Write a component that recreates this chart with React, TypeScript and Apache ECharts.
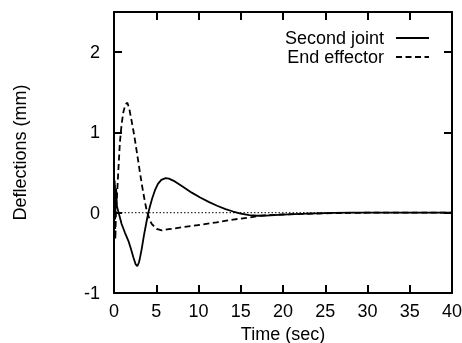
import React, { useEffect, useRef } from "react";
import * as echarts from "echarts";

const xTicks = [0, 5, 10, 15, 20, 25, 30, 35, 40];
const yTicks = [-1, 0, 1, 2];

const jointT = [0, 0.08, 0.16, 0.25, 0.35, 0.5, 0.7, 0.9, 1.3, 1.7, 2.0, 2.29, 2.55, 2.76, 2.95, 3.1, 3.28, 3.55, 3.87, 4.06, 4.26, 4.5, 4.85, 5.2, 5.6, 6.1, 6.5, 7.2, 8.2, 9.2, 10.2, 11.2, 12.2, 13.2, 14.1, 15, 16, 17, 18, 20, 22, 24, 26, 28, 30, 35, 40];
const jointY = [0, 0.4, 0.0, 0.3, 0.08, 0.02, -0.06, -0.14, -0.25, -0.35, -0.45, -0.555, -0.64, -0.667, -0.62, -0.55, -0.45, -0.28, -0.1, 0, 0.08, 0.17, 0.28, 0.36, 0.41, 0.43, 0.425, 0.39, 0.32, 0.25, 0.19, 0.135, 0.087, 0.045, 0.015, -0.01, -0.03, -0.038, -0.035, -0.025, -0.015, -0.008, -0.003, 0, 0, 0, 0];

const effT = [0, 0.08, 0.16, 0.25, 0.35, 0.5, 0.7, 0.9, 1.1, 1.35, 1.58, 1.8, 2.09, 2.4, 2.68, 3.0, 3.28, 3.6, 3.87, 4.2, 4.46, 5.05, 5.64, 6.5, 8.2, 10.2, 12.15, 14.1, 16.1, 17.1, 18, 20, 22, 24, 26, 28, 30, 35, 40];
const effY = [0, 0.35, -0.33, 0.1, 0.2, 0.5, 0.88, 1.1, 1.25, 1.35, 1.37, 1.3, 1.14, 0.96, 0.77, 0.55, 0.36, 0.17, 0.025, -0.08, -0.14, -0.2, -0.22, -0.205, -0.18, -0.15, -0.12, -0.085, -0.058, -0.04, -0.032, -0.022, -0.015, -0.01, -0.006, -0.003, 0, 0, 0];

const FONT = "'Liberation Sans', Arial, Helvetica, sans-serif";

export default function App() {
  const ref = useRef<HTMLDivElement>(null);
  useEffect(() => {
    if (!ref.current) return;
    const chart = echarts.init(ref.current, undefined, { renderer: "svg" });
    const pair = (t: number[], y: number[]) => t.map((v, i) => [v, y[i]]);
    const mkX = (position: string, extra: any) => ({
      type: "value",
      min: 0,
      max: 40,
      interval: 5,
      position,
      splitLine: { show: false },
      axisLine: { show: true, onZero: false, lineStyle: { color: "#000", width: 2 } },
      axisTick: { show: true, inside: true, length: 8, lineStyle: { color: "#000", width: 2 } },
      ...extra,
    });
    const mkY = (position: string, extra: any) => ({
      type: "value",
      min: -1,
      max: 2.5,
      interval: 1,
      position,
      splitLine: { show: false },
      axisLine: { show: true, onZero: false, lineStyle: { color: "#000", width: 2 } },
      axisTick: { show: true, inside: true, length: 8, lineStyle: { color: "#000", width: 2 } },
      ...extra,
    });
    chart.setOption({
      animation: false,
      grid: { left: 114, right: 10, top: 12, bottom: 50, outerBoundsMode: "none" },
      legend: {
        data: ["Second joint", "End effector"],
        orient: "vertical",
        align: "right",
        right: 32,
        top: 29,
        padding: 0,
        itemGap: 1,
        itemWidth: 33,
        itemHeight: 14,
        itemStyle: { opacity: 0 },
        textStyle: { fontSize: 18, color: "#000", fontFamily: FONT, padding: [0, 7, 0, 0] },
      },
      xAxis: [
        mkX("bottom", {
          name: "Time (sec)",
          nameLocation: "middle",
          nameGap: 27,
          nameTextStyle: { fontSize: 18, color: "#000", fontFamily: FONT },
          axisLabel: { fontSize: 18, color: "#000", margin: 9, fontFamily: FONT, formatter: (v: number) => (xTicks.includes(v) ? String(v) : "") },
        }),
        mkX("top", { axisLabel: { show: false } }),
      ],
      yAxis: [
        mkY("left", {
          name: "Deflections (mm)",
          nameLocation: "middle",
          nameGap: 85,
          nameTextStyle: { fontSize: 18, color: "#000", fontFamily: FONT },
          axisLabel: { fontSize: 18, color: "#000", margin: 14, fontFamily: FONT, showMaxLabel: false, formatter: (v: number) => (yTicks.includes(v) ? String(v) : "") },
        }),
        mkY("right", { axisLabel: { show: false } }),
      ],
      series: [
        {
          name: "zero",
          type: "line",
          data: [[0, 0], [40, 0]],
          symbol: "none",
          lineStyle: { color: "#000", width: 1, type: [1.5, 2] },
          silent: true,
        },
        {
          name: "Second joint",
          type: "line",
          data: pair(jointT, jointY),
          symbol: "none",
          lineStyle: { color: "#000", width: 1.8, type: "solid" },
          itemStyle: { color: "#000" },
        },
        {
          name: "End effector",
          type: "line",
          data: pair(effT, effY),
          symbol: "none",
          lineStyle: { color: "#000", width: 1.8, type: [6, 3.5] },
          itemStyle: { color: "#000" },
        },
      ],
    });
    return () => chart.dispose();
  }, []);
  return <div ref={ref} style={{ position: "fixed", left: 0, top: 0, width: 462, height: 343 }} />;
}
